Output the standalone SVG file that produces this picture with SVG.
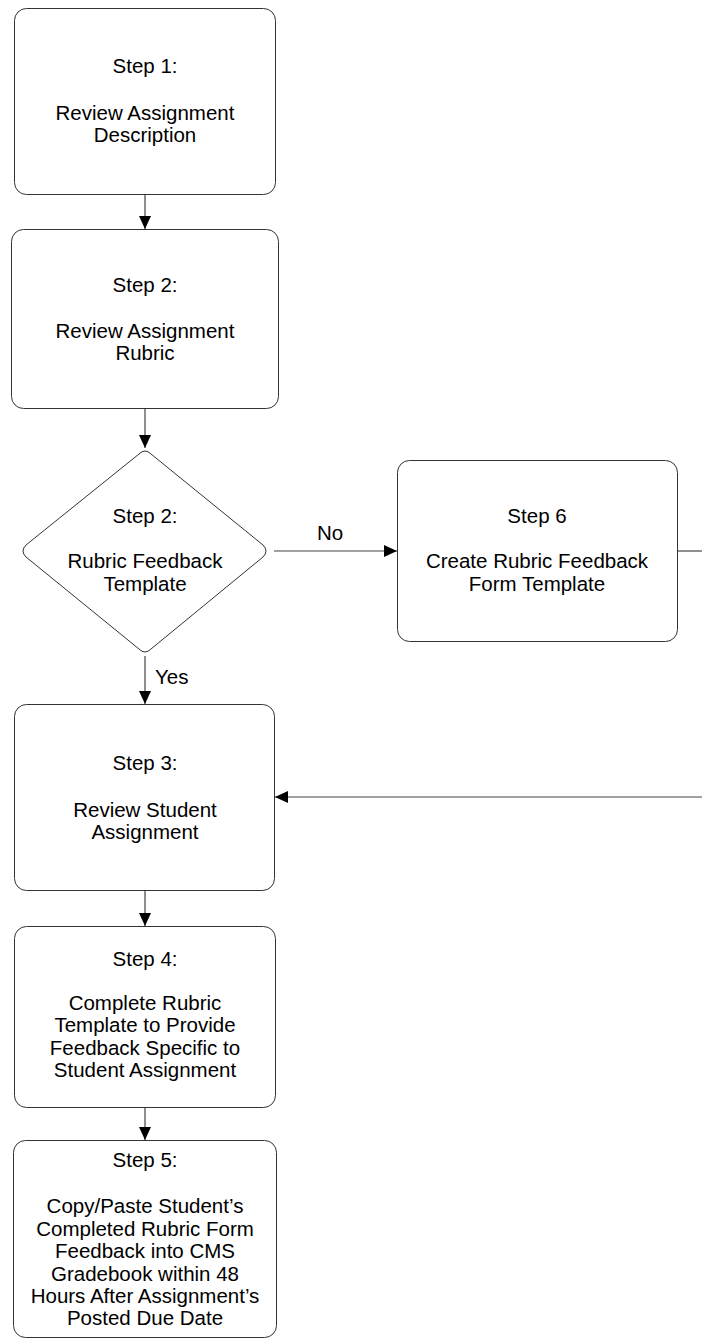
<svg xmlns="http://www.w3.org/2000/svg" width="702" height="1339" viewBox="0 0 702 1339">
<style>
.box{fill:#fff;stroke:#333;stroke-width:1}
.t{font-family:"Liberation Sans",Arial,sans-serif;font-size:20.5px;fill:#000;text-anchor:middle}
.l{font-family:"Liberation Sans",Arial,sans-serif;font-size:20.5px;fill:#000}
.c{stroke:#444;stroke-width:1.2;fill:none}
</style>
<defs>
<marker id="ah" markerWidth="13" markerHeight="12" refX="13" refY="6" orient="auto" markerUnits="userSpaceOnUse">
<path d="M0,0 L13,6 L0,12 Z" fill="#000"/>
</marker>
</defs>
<rect width="702" height="1339" fill="#fff"/>
<g id="connectors">
<line class="c" x1="145" y1="194" x2="145" y2="229" marker-end="url(#ah)"/>
<line class="c" x1="145" y1="408" x2="145" y2="448" marker-end="url(#ah)"/>
<line class="c" x1="274" y1="551" x2="397" y2="551" marker-end="url(#ah)"/>
<line class="c" x1="677" y1="551" x2="702" y2="551"/>
<line class="c" x1="702" y1="797" x2="275" y2="797" marker-end="url(#ah)"/>
<line class="c" x1="145" y1="656" x2="145" y2="704" marker-end="url(#ah)"/>
<line class="c" x1="145" y1="890" x2="145" y2="926" marker-end="url(#ah)"/>
<line class="c" x1="145" y1="1107" x2="145" y2="1140" marker-end="url(#ah)"/>
<text class="l" x="317" y="540">No</text>
<text class="l" x="155" y="684">Yes</text>
</g>
<g id="step1">
<rect class="box" x="14.5" y="8.5" width="261" height="186" rx="12"/>
<text class="t" x="145" y="73">Step 1:</text>
<text class="t" x="145" y="120">Review Assignment</text>
<text class="t" x="145" y="142">Description</text>
</g>
<g id="step2">
<rect class="box" x="11.5" y="229.5" width="267" height="179" rx="12"/>
<text class="t" x="145" y="292">Step 2:</text>
<text class="t" x="145" y="338">Review Assignment</text>
<text class="t" x="145" y="360">Rubric</text>
</g>
<g id="decision">
<path class="box" d="M139,454 Q145,448 151,454 L263,545 Q269,551 263,557 L151,649 Q145,655 139,649 L26,557 Q20,551 26,545 Z"/>
<text class="t" x="145" y="523">Step 2:</text>
<text class="t" x="145" y="568">Rubric Feedback</text>
<text class="t" x="145" y="591">Template</text>
</g>
<g id="step6">
<rect class="box" x="397.5" y="460.5" width="280" height="181" rx="12"/>
<text class="t" x="537" y="523">Step 6</text>
<text class="t" x="537" y="568">Create Rubric Feedback</text>
<text class="t" x="537" y="591">Form Template</text>
</g>
<g id="step3">
<rect class="box" x="14.5" y="704.5" width="260" height="186" rx="12"/>
<text class="t" x="145" y="770">Step 3:</text>
<text class="t" x="145" y="817">Review Student</text>
<text class="t" x="145" y="839">Assignment</text>
</g>
<g id="step4">
<rect class="box" x="14.5" y="926.5" width="261" height="181" rx="12"/>
<text class="t" x="145" y="966">Step 4:</text>
<text class="t" x="145" y="1010">Complete Rubric</text>
<text class="t" x="145" y="1032">Template to Provide</text>
<text class="t" x="145" y="1055">Feedback Specific to</text>
<text class="t" x="145" y="1077">Student Assignment</text>
</g>
<g id="step5">
<rect class="box" x="13.5" y="1140.5" width="263" height="197" rx="12"/>
<text class="t" x="145" y="1167">Step 5:</text>
<text class="t" x="145" y="1213">Copy/Paste Student’s</text>
<text class="t" x="145" y="1236">Completed Rubric Form</text>
<text class="t" x="145" y="1258">Feedback into CMS</text>
<text class="t" x="145" y="1281">Gradebook within 48</text>
<text class="t" x="145" y="1303">Hours After Assignment’s</text>
<text class="t" x="145" y="1325">Posted Due Date</text>
</g>
</svg>
